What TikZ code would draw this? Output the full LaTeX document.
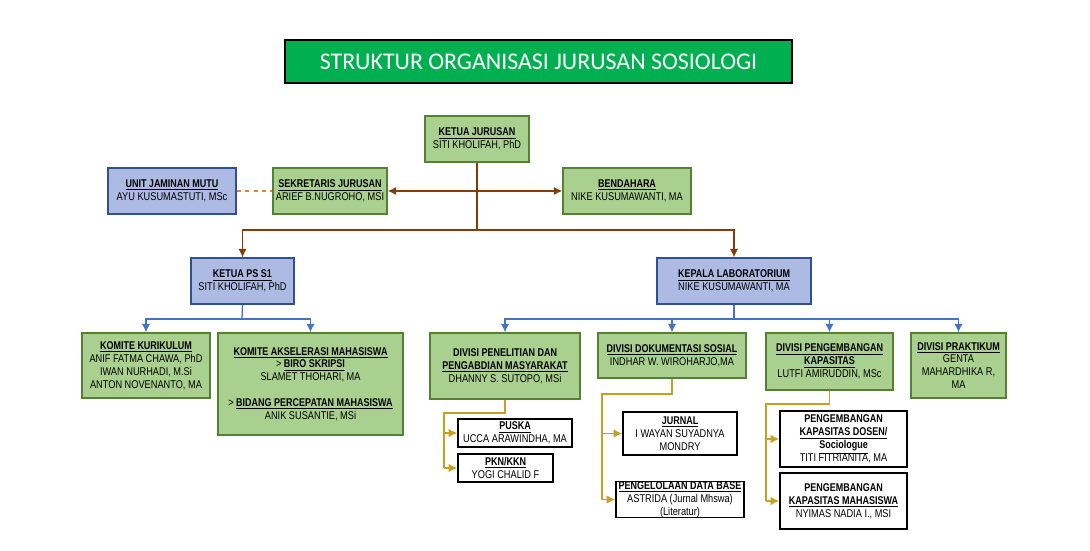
\documentclass[tikz,border=0pt]{standalone}
\usepackage{fontspec}
\setmainfont{Liberation Sans}[FakeStretch=0.82,BoldFeatures={FakeStretch=0.8}]
\newfontfamily\titlefont{Carlito}
\usetikzlibrary{arrows.meta}
\definecolor{grnfill}{RGB}{169,208,142}
\definecolor{grnline}{RGB}{84,130,53}
\definecolor{blufill}{RGB}{172,186,228}
\definecolor{bluline}{RGB}{47,82,143}
\definecolor{titlegrn}{RGB}{0,176,80}
\definecolor{brn}{RGB}{132,60,12}
\definecolor{cblue}{RGB}{68,114,196}
\definecolor{gold}{RGB}{201,160,30}
\definecolor{orng}{RGB}{237,125,49}
\newcommand{\hd}[1]{\underline{\textbf{#1}}}
\begin{document}
\begin{tikzpicture}[x=0.025cm,y=-0.025cm,>={Latex[length=6pt,width=6pt]},
  grnbox/.style={draw=grnline,fill=grnfill,line width=1pt,inner sep=0pt,align=center,font=\fontsize{8}{9.2}\selectfont},
  blubox/.style={draw=bluline,fill=blufill,line width=1pt,inner sep=0pt,align=center,font=\fontsize{8}{9.2}\selectfont},
  whtbox/.style={draw=black,fill=white,line width=1.2pt,inner sep=0pt,align=center,font=\fontsize{8}{9.2}\selectfont},
  brnline/.style={draw=brn,line width=1.3pt},
  bluconn/.style={draw=cblue,line width=0.9pt},
  goldconn/.style={draw=gold,line width=0.9pt}]
\useasboundingbox (0,0) rectangle (1090,551);
% title
\node[draw=black,fill=titlegrn,line width=1.8pt,minimum width=12.675cm,minimum height=1.075cm,
  text=white,font=\titlefont\fontsize{17}{20}\selectfont] (title) at (538.5,61.5) {STRUKTUR ORGANISASI JURUSAN SOSIOLOGI};
% top level
\node[grnbox,minimum width=2.6cm,minimum height=1.15cm] (kajur) at (477,139) {\hd{KETUA JURUSAN}\\SITI KHOLIFAH, PhD};
\node[blubox,minimum width=3.2cm,minimum height=1.15cm] (ujm) at (172,191) {\hd{UNIT JAMINAN MUTU}\\AYU KUSUMASTUTI, MSc};
\node[grnbox,minimum width=2.85cm,minimum height=1.15cm] (sekre) at (330,191) {\hd{SEKRETARIS JURUSAN}\\ARIEF B.NUGROHO, MSI};
\node[grnbox,minimum width=3.2cm,minimum height=1.15cm] (bend) at (627,191) {\hd{BENDAHARA}\\NIKE KUSUMAWANTI, MA};
\node[blubox,minimum width=2.575cm,minimum height=1.15cm] (kaps) at (242.5,281) {\hd{KETUA PS S1}\\SITI KHOLIFAH, PhD};
\node[blubox,minimum width=3.85cm,minimum height=1.15cm] (kalab) at (734,281) {\hd{KEPALA LABORATORIUM}\\NIKE KUSUMAWANTI, MA};
% under ketua ps s1
\node[grnbox,minimum width=3.2cm,minimum height=1.625cm] (kurik) at (146,365.5) {\hd{KOMITE KURIKULUM}\\ANIF FATMA CHAWA, PhD\\IWAN NURHADI, M.Si\\ANTON NOVENANTO, MA};
\node[grnbox,minimum width=4.625cm,minimum height=2.55cm] (aksel) at (310.5,384) {\hd{KOMITE AKSELERASI MAHASISWA}\\> \hd{BIRO SKRIPSI}\\SLAMET THOHARI, MA\\[9pt]> \hd{BIDANG PERCEPATAN MAHASISWA}\\ANIK SUSANTIE, MSi};
% under kepala lab
\node[grnbox,minimum width=3.75cm,minimum height=1.65cm] (penel) at (505,366) {\textbf{DIVISI PENELITIAN DAN}\\\hd{PENGABDIAN MASYARAKAT}\\DHANNY S. SUTOPO, MSi};
\node[grnbox,minimum width=3.7cm,minimum height=1.125cm] (dok) at (672,355.5) {\hd{DIVISI DOKUMENTASI SOSIAL}\\INDHAR W. WIROHARJO,MA};
\node[grnbox,minimum width=3.175cm,minimum height=1.425cm] (pengem) at (829.5,361.5) {\hd{DIVISI PENGEMBANGAN}\\\hd{KAPASITAS}\\LUTFI AMIRUDDIN, MSc};
\node[grnbox,minimum width=2.375cm,minimum height=1.625cm] (prakt) at (958.5,365.5) {\hd{DIVISI PRAKTIKUM}\\GENTA\\MAHARDHIKA R,\\MA};
% white boxes
\node[whtbox,minimum width=2.85cm,minimum height=0.7cm] (puska) at (515,433) {\hd{PUSKA}\\UCCA ARAWINDHA, MA};
\node[whtbox,minimum width=2.375cm,minimum height=0.7cm] (pkn) at (505.5,468) {\hd{PKN/KKN}\\YOGI CHALID F};
\node[whtbox,minimum width=2.85cm,minimum height=1.075cm] (jurnal) at (680,433.5) {\hd{JURNAL}\\I WAYAN SUYADNYA\\MONDRY};
\node[whtbox,minimum width=3.2cm,minimum height=0.875cm] (pdb) at (680,499.5) {\hd{PENGELOLAAN DATA BASE}\\ASTRIDA (Jurnal Mhswa)\\(Literatur)};
\node[whtbox,minimum width=3.175cm,minimum height=1.4cm] (pkdos) at (843.5,439) {\textbf{PENGEMBANGAN}\\\hd{KAPASITAS DOSEN/}\\\hd{Sociologue}\\TITI FITRIANITA, MA};
\node[whtbox,minimum width=3.175cm,minimum height=1.4cm] (pkmhs) at (843.5,501) {\textbf{PENGEMBANGAN}\\\hd{KAPASITAS MAHASISWA}\\NYIMAS NADIA I., MSI};
% brown connectors
\draw[orng,dashed,line width=0.8pt] (ujm.east) -- (sekre.west);
\draw[brnline,<->] (sekre.east) -- (bend.west);
\coordinate (t1) at (477,230);
\draw[brnline,line width=1pt] (kajur.south) -- (t1);
\draw[brnline,line width=1pt,->] (t1) -| (kaps.north);
\draw[brnline,line width=1pt,->] (t1) -| (kalab.north);
% blue connectors
\coordinate (t2) at (242,319);
\draw[bluconn] (kaps.south) -- (t2);
\draw[bluconn,->] (t2) -| (kurik.north);
\draw[bluconn,->] (t2) -| (aksel.north);
\coordinate (t3) at (734,319);
\draw[bluconn] (kalab.south) -- (t3);
\draw[bluconn,->] (t3) -| (penel.north);
\draw[bluconn,->] (t3) -| (dok.north);
\draw[bluconn,->] (t3) -| (pengem.north);
\draw[bluconn,->] (t3) -| (prakt.north);
% gold connectors
\coordinate (b1) at (444,413);
\draw[goldconn] (penel.south) |- (b1) -- (b1 |- pkn.west);
\draw[goldconn,->] (b1 |- puska.west) -- (puska.west);
\draw[goldconn,->] (b1 |- pkn.west) -- (pkn.west);
\coordinate (b2) at (602,394);
\draw[goldconn] (dok.south) |- (b2) -- (b2 |- pdb.west);
\draw[goldconn,->] (b2 |- jurnal.west) -- (jurnal.west);
\draw[goldconn,->] (b2 |- pdb.west) -- (pdb.west);
\coordinate (b3) at (766,404);
\draw[goldconn] (pengem.south) |- (b3) -- (b3 |- pkmhs.west);
\draw[goldconn,->] (b3 |- pkdos.west) -- (pkdos.west);
\draw[goldconn,->] (b3 |- pkmhs.west) -- (pkmhs.west);
\end{tikzpicture}
\end{document}
